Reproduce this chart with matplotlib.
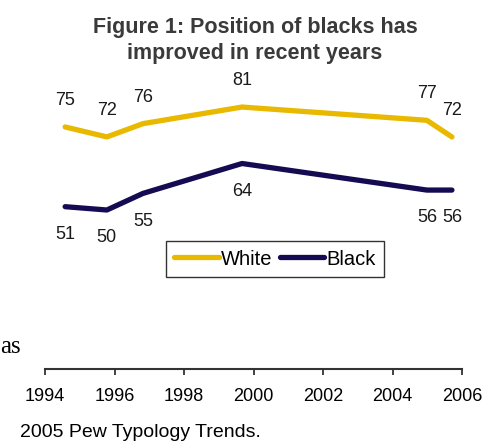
import matplotlib
matplotlib.use("Agg")
import matplotlib.pyplot as plt

plt.rcParams['font.family'] = ['Liberation Sans', 'DejaVu Sans']

# survey dates (fractional years) and percentages
years = [1994.58, 1995.78, 1996.82, 1999.67, 2004.99, 2005.71]
white = [75, 72, 76, 81, 77, 72]
black = [51, 50, 55, 64, 56, 56]
axis_ticks = [1994, 1996, 1998, 2000, 2002, 2004, 2006]

gold = "#E9B900"
navy = "#150B52"

W, H = 499, 444
fig = plt.figure(figsize=(W / 100, H / 100), dpi=100)

# upper chart, same x scale as the axis below it
ax = fig.add_axes([45 / W, 1 - 230 / H, 417 / W, 170 / H])
ax.plot(years, white, color=gold, lw=3.8, solid_capstyle="round", label="White")
ax.plot(years, black, color=navy, lw=3.8, solid_capstyle="round", label="Black")
for x, v in zip(years, white):
    ax.annotate(str(v), (x, v), xytext=(0, 19), textcoords="offset points",
                ha="center", va="center", fontsize=13, color="#1a1a1a")
for x, v in zip(years, black):
    ax.annotate(str(v), (x, v), xytext=(0, -20), textcoords="offset points",
                ha="center", va="center", fontsize=13, color="#1a1a1a")
ax.set_xlim(1994, 2006)
ax.set_ylim(43.98, 95.16)
ax.axis("off")

leg = fig.legend(loc="center", bbox_to_anchor=(275 / W, 1 - 259 / H), ncol=2,
                 fontsize=14.5, frameon=True, fancybox=False, handlelength=2.2,
                 handletextpad=0.1, columnspacing=0.4, borderpad=0.4)
leg.get_frame().set_edgecolor("black")
leg.get_frame().set_linewidth(1.0)

# separate time axis
ax2 = fig.add_axes([45 / W, 1 - 369 / H, 417 / W, 0.0001])
ax2.set_xlim(1994, 2006)
ax2.set_xticks(axis_ticks)
ax2.set_yticks([])
for s in ["left", "right", "top"]:
    ax2.spines[s].set_visible(False)
ax2.spines["bottom"].set_linewidth(1.5)
ax2.spines["bottom"].set_color("#333333")
ax2.tick_params(axis="x", direction="out", length=4.5, width=1.3,
                color="#333333", pad=9, labelsize=13)

fig.text(255 / W, 1 - 28 / H, "Figure 1: Position of blacks has",
         ha="center", va="center", fontsize=15.5, fontweight="bold", color="#3a3a3a")
fig.text(255 / W, 1 - 53 / H, "improved in recent years",
         ha="center", va="center", fontsize=15.5, fontweight="bold", color="#3a3a3a")
fig.text(0, 1 - 347 / H, "as", ha="left", va="center",
         fontsize=18, family="Liberation Serif")
fig.text(20 / W, 1 - 432 / H, "2005 Pew Typology Trends.",
         ha="left", va="center", fontsize=14)

fig.savefig("out.png", dpi=100)
